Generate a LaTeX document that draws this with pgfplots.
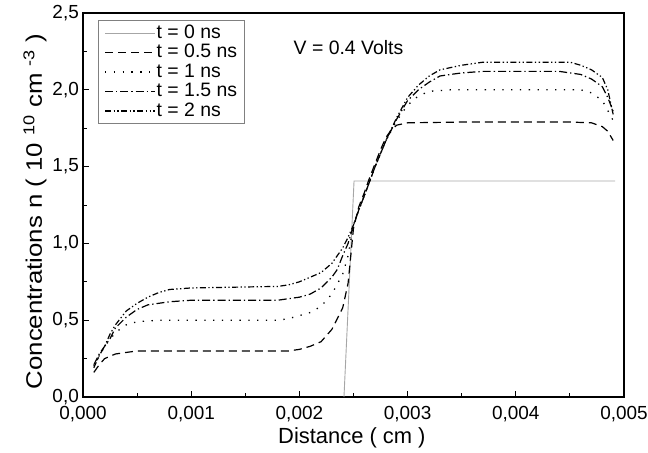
\documentclass[border=0pt]{standalone}
\usepackage{fontspec}
\setmainfont{Liberation Sans}
\usepackage{pgfplots}
\pgfplotsset{compat=1.18}
\begin{document}
\begin{tikzpicture}
\useasboundingbox (-83bp,-56bp) rectangle (565bp,397bp);
\begin{axis}[
  scale only axis, width=541bp, height=384bp,
  xmin=0, xmax=0.005, ymin=0, ymax=2.5,
  xtick={0,0.001,0.002,0.003,0.004,0.005},
  ytick={0,0.5,1,1.5,2,2.5},
  minor x tick num=1, minor y tick num=1,
  scaled x ticks=false, scaled y ticks=false,
  tick align=inside, xtick pos=bottom, ytick pos=left,
  major tick length=6bp, minor tick length=4bp,
  every tick/.style={black, line width=0.9bp},
  axis line style={line width=1.2bp},
  /pgf/number format/assume math mode=true,
  xticklabel style={/pgf/number format/.cd, fixed, fixed zerofill, precision=3, use comma,
    /tikz/.cd, font=\fontsize{19}{20}\selectfont, inner sep=0pt, yshift=-9bp},
  yticklabel style={/pgf/number format/.cd, fixed, fixed zerofill, precision=1, use comma,
    /tikz/.cd, font=\fontsize{19}{20}\selectfont, inner sep=0pt, xshift=-4bp},
  xlabel={Distance ( cm )},
  ylabel={\scalebox{1.15}[1]{Concentrations n ( 10 \textsuperscript{10} cm \textsuperscript{-3} )}},
  xlabel style={font=\fontsize{22}{22}\selectfont, at={(axis description cs:0.497,0)}, anchor=base, yshift=-46bp},
  ylabel style={font=\fontsize{22.5}{23}\selectfont, at={(axis description cs:-0.0758,0.483)}, anchor=base},
  legend cell align=left,
  legend style={at={(axis description cs:0.0277,0.982)}, anchor=north west,
    draw=gray, line width=0.8bp, inner xsep=6bp, inner ysep=3bp,
    font=\fontsize{19.5}{20}\selectfont,
    nodes={inner sep=1bp, text height=14bp, text depth=3.5bp}},
  legend image code/.code={\draw[#1] (0bp,0bp) -- (50bp,0bp);},
]
\addplot[gray!70, line width=0.9bp] coordinates {
  (0.002412,0) (0.002505,1.406) (0.004917,1.406)};
\addlegendentry{t = 0 ns}
\addplot[black, line width=1.2bp, dash pattern=on 8bp off 5bp] coordinates {
  (0.0001,0.16) (0.00015,0.21) (0.0002,0.25) (0.0003,0.28) (0.0005,0.30)
  (0.001,0.30) (0.0019,0.30) (0.002,0.31) (0.0021,0.33) (0.0022,0.36)
  (0.0023,0.44) (0.0024,0.58) (0.00245,0.74) (0.0025,1.10) (0.00255,1.24)
  (0.0026,1.33) (0.00265,1.43) (0.0027,1.52) (0.00275,1.61) (0.0028,1.69)
  (0.00285,1.74) (0.0029,1.77) (0.003,1.785) (0.0035,1.79) (0.0045,1.79)
  (0.0047,1.785) (0.0048,1.76) (0.00485,1.73) (0.0049,1.67)};
\addlegendentry{t = 0.5 ns}
\addplot[black, line width=1.3bp, dash pattern=on 1.3bp off 7.5bp] coordinates {
  (0.0001,0.20) (0.0002,0.33) (0.0003,0.42) (0.0004,0.47) (0.0005,0.49)
  (0.0007,0.50) (0.0018,0.50) (0.0019,0.51) (0.002,0.53) (0.0021,0.55)
  (0.0022,0.59) (0.0023,0.67) (0.0024,0.80) (0.00245,0.92) (0.0025,1.12)
  (0.00255,1.22) (0.0026,1.31) (0.0027,1.50) (0.0028,1.67) (0.0029,1.80)
  (0.003,1.90) (0.0031,1.96) (0.0032,1.99) (0.0034,2.0) (0.0046,2.0)
  (0.0047,1.98) (0.0048,1.93) (0.0049,1.80)};
\addlegendentry{t = 1 ns}
\addplot[black, line width=1.2bp, dash pattern=on 8bp off 3bp on 1.3bp off 3bp] coordinates {
  (0.0001,0.21) (0.00015,0.28) (0.0002,0.33) (0.00025,0.38) (0.0003,0.45)
  (0.0004,0.52) (0.0005,0.57) (0.0006,0.60) (0.0008,0.62) (0.001,0.63)
  (0.0018,0.63) (0.0019,0.64) (0.002,0.65) (0.0021,0.67) (0.0022,0.71)
  (0.0023,0.78) (0.00235,0.83) (0.0024,0.92) (0.00245,1.0) (0.0025,1.12)
  (0.00255,1.22) (0.0026,1.31) (0.0027,1.50) (0.0028,1.67) (0.0029,1.81)
  (0.003,1.93) (0.0031,2.00) (0.0032,2.05) (0.0033,2.09) (0.0035,2.11)
  (0.0037,2.12) (0.0044,2.12) (0.0046,2.10) (0.0047,2.07) (0.0048,2.02)
  (0.00485,1.95) (0.0049,1.86)};
\addlegendentry{t = 1.5 ns}
\addplot[black, line width=1.2bp, dash pattern=on 6bp off 2.5bp on 1.3bp off 2.5bp on 1.3bp off 2.5bp] coordinates {
  (0.0001,0.19) (0.00015,0.27) (0.0002,0.33) (0.00025,0.41) (0.0003,0.47)
  (0.0004,0.56) (0.0005,0.61) (0.0006,0.65) (0.0007,0.68) (0.0008,0.70)
  (0.001,0.71) (0.0018,0.72) (0.0019,0.73) (0.002,0.75) (0.0021,0.78)
  (0.0022,0.81) (0.0023,0.87) (0.0024,0.97) (0.00245,1.04) (0.0025,1.12)
  (0.00255,1.22) (0.0026,1.31) (0.0027,1.50) (0.0028,1.67) (0.0029,1.82)
  (0.003,1.95) (0.0031,2.03) (0.0032,2.09) (0.0033,2.13) (0.0035,2.16)
  (0.0037,2.18) (0.0045,2.18) (0.0046,2.16) (0.0047,2.13) (0.0048,2.08)
  (0.00485,2.00) (0.0049,1.84)};
\addlegendentry{t = 2 ns}
\node[anchor=base, font=\fontsize{19.5}{20}\selectfont] at (axis cs:0.002454,2.227) {V = 0.4 Volts};
\end{axis}
\end{tikzpicture}
\end{document}
